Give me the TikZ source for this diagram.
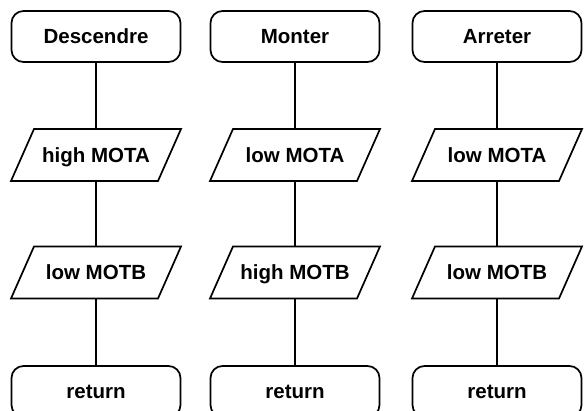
\documentclass[tikz,border=0pt]{standalone}
\usepackage{fontspec}
\setmainfont{Liberation Sans}
\begin{document}
\begin{tikzpicture}[x=1pt,y=1pt,
  every node/.style={font=\bfseries\fontsize{20.5}{24}\selectfont, text height=15pt, text depth=0pt},
  termbox/.style={draw, line width=1.7pt, rounded corners=12pt, minimum width=169pt, minimum height=51pt, inner sep=0pt},
  iobox/.style={minimum width=147pt, minimum height=52pt, inner sep=0pt},
  pshape/.style={line width=1.7pt, line join=miter},
  link/.style={line width=1.7pt}]
\useasboundingbox (0,0) rectangle (584,-411);
\foreach \n/\x/\a/\b/\c in {1/96/Descendre/high MOTA/low MOTB, 2/295/Monter/low MOTA/high MOTB, 3/497/Arreter/low MOTA/low MOTB}{
  \node[termbox] (t\n) at (\x,-36.5) {\a};
  \node[iobox] (p\n) at (\x,-155) {\b};
  \node[iobox] (q\n) at (\x,-272.5) {\c};
  \node[termbox] (r\n) at (\x,-391.5) {return};
  \draw[pshape, shift={(p\n.center)}] (-62,26) -- (85,26) -- (62,-26) -- (-85,-26) -- cycle;
  \draw[pshape, shift={(q\n.center)}] (-62,26) -- (85,26) -- (62,-26) -- (-85,-26) -- cycle;
  \draw[link] (t\n.south) -- (p\n.north);
  \draw[link] (p\n.south) -- (q\n.north);
  \draw[link] (q\n.south) -- (r\n.north);
}
\end{tikzpicture}
\end{document}
